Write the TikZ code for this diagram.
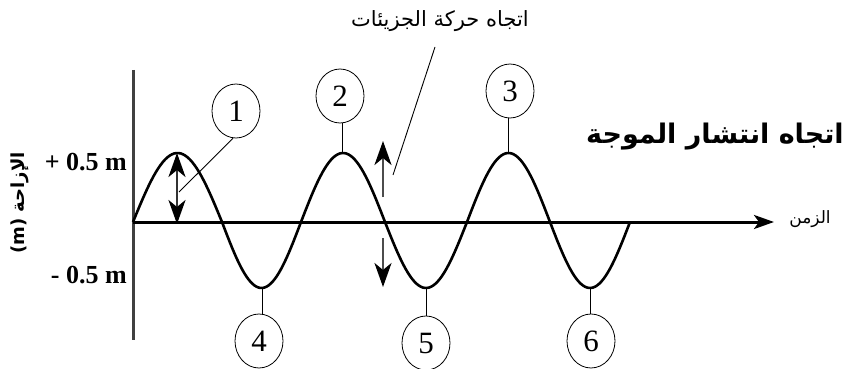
\documentclass[tikz,border=0pt]{standalone}
\usepackage{fontspec}
\setmainfont{Liberation Serif}
\newfontfamily\arabicfont[Script=Arabic]{DejaVu Sans}
\TeXXeTstate=1
\usetikzlibrary{arrows.meta,shapes.geometric}
\begin{document}
\begin{tikzpicture}[x=1pt,y=-1pt,
  num/.style={ellipse, draw, line width=0.8pt, minimum width=48pt, minimum height=54pt, inner sep=0pt, font=\fontsize{31}{31}\selectfont},
  lead/.style={line width=0.9pt},
  axisline/.style={line width=3pt},
  wave/.style={line width=2.6pt},
  tip/.style={Stealth[length=24pt,width=17pt,inset=7pt,fill=black,color=black]},
  head/.style={-{Stealth[length=24pt,width=17pt,inset=7pt,black]}, line width=2.4pt, draw=black!70},
  dhead/.style={{Stealth[length=24pt,width=17pt,inset=7pt,black]}-{Stealth[length=24pt,width=17pt,inset=7pt,black]}, line width=2.4pt, draw=black!80},
  ylab/.style={font=\fontsize{26}{26}\selectfont\bfseries, anchor=east, inner sep=0pt},
  artext/.style={font=\arabicfont\fontsize{21}{21}\selectfont, inner sep=0pt}
]
\useasboundingbox (0,0) rectangle (844,369);
% axes
\coordinate (vtop) at (133,70);
\coordinate (vbot) at (133,340);
\coordinate (o) at (133,222);
\coordinate (xend) at (774,222);
\draw[axisline, draw=black!75] (vtop) -- (vbot);
\draw[axisline, -{Stealth[length=20pt,width=14pt,inset=5pt]}] (o) -- (xend);
% wave: half-sine segments
\draw[wave]
  plot[domain=0:180,samples=40] ({133+89*\x/180},{222-69*sin(\x)})
  -- plot[domain=0:180,samples=40] ({222+79*\x/180},{222+66*sin(\x)})
  -- plot[domain=0:180,samples=40] ({301+84*\x/180},{222-69*sin(\x)})
  -- plot[domain=0:180,samples=40] ({385+82*\x/180},{222+66*sin(\x)})
  -- plot[domain=0:180,samples=40] ({467+83*\x/180},{222-69*sin(\x)})
  -- plot[domain=0:180,samples=40] ({550+80*\x/180},{222+66*sin(\x)});
% peaks and troughs
\coordinate (p2) at (342,153);
\coordinate (p3) at (508,153);
\coordinate (t1) at (262,288);
\coordinate (t2) at (426,288);
\coordinate (t3) at (590,288);
% numbered circles
\node[num] (n1) at (236,111) {1};
\node[num] (n2) at (340,96) {2};
\node[num] (n3) at (510,91) {3};
\node[num] (n4) at (259,341) {4};
\node[num] (n5) at (426,343) {5};
\node[num] (n6) at (591,341) {6};
\draw[lead] (p2) -- (p2 |- n2.south);
\draw[lead] (p3) -- (p3 |- n3.south);
\draw[lead] (t1) -- (t1 |- n4.north);
\draw[lead] (t2) -- (t2 |- n5.north);
\draw[lead] (t3) -- (t3 |- n6.north);
% double arrow at first crest
\coordinate (d1a) at (177,153);
\coordinate (d1b) at (177,224);
\draw[dhead] (d1b) -- (d1a);
\coordinate (a1) at (179,192);
\draw[lead] (n1.-96) -- (a1);
% particle motion arrows
\coordinate (u1) at (383,197);
\coordinate (u2) at (383,141);
\coordinate (w1) at (383,238);
\coordinate (w2) at (383,287);
\draw[head] (u1) -- (u2);
\draw[head] (w1) -- (w2);
% labels
\node[artext] (lbl) at (440,21) {\beginR اتجاه حركة الجزيئات\endR};
\coordinate (lt) at (435,47);
\coordinate (lb) at (393,175);
\draw[lead] (lt) -- (lb);
\node[artext, font=\arabicfont\bfseries\fontsize{27}{27}\selectfont] (title) at (715,137) {\beginR اتجاه انتشار الموجة\endR};
\node[artext, font=\arabicfont\fontsize{17}{17}\selectfont] (time) at (810,219) {\beginR الزمن\endR};
\node[ylab] (yp) at (127,162) {+ 0.5 m};
\node[ylab] (ym) at (127,275) {- 0.5 m};
\node[artext, font=\arabicfont\bfseries\fontsize{18}{18}\selectfont, rotate=90] (yl) at (20,203) {\beginR الإزاحة \beginL(m)\endL\endR};
\end{tikzpicture}
\end{document}
